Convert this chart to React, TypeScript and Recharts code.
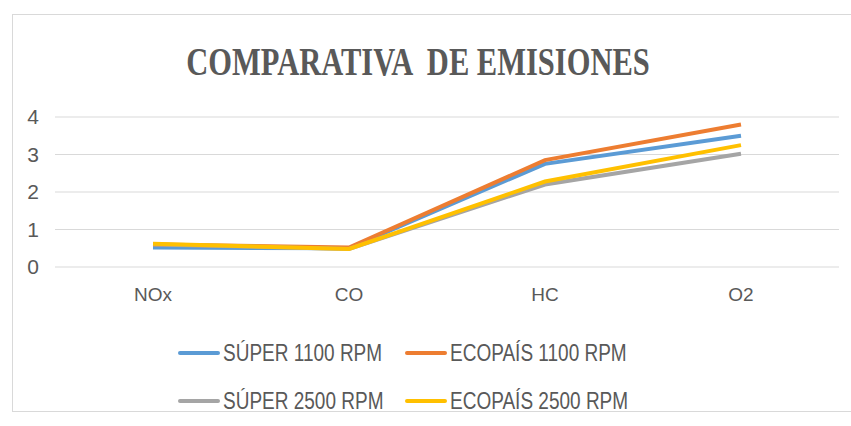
import { LineChart, Line, XAxis, YAxis, CartesianGrid } from "recharts";

const CATEGORIES = ["NOx", "CO", "HC", "O2"];
const SUPER_1100 = [0.52, 0.5, 2.75, 3.5];
const ECOPAIS_1100 = [0.6, 0.52, 2.85, 3.8];
const SUPER_2500 = [0.6, 0.48, 2.2, 3.02];
const ECOPAIS_2500 = [0.62, 0.48, 2.28, 3.25];
const Y_TICKS = [0, 1, 2, 3, 4];

const SERIES = [
  { key: "s1100", name: "SÚPER 1100 RPM", color: "#5B9BD5", values: SUPER_1100 },
  { key: "e1100", name: "ECOPAÍS 1100 RPM", color: "#ED7D31", values: ECOPAIS_1100 },
  { key: "s2500", name: "SÚPER 2500 RPM", color: "#A5A5A5", values: SUPER_2500 },
  { key: "e2500", name: "ECOPAÍS 2500 RPM", color: "#FFC000", values: ECOPAIS_2500 },
];

const data = CATEGORIES.map((cat, i) => {
  const row: Record<string, string | number> = { cat };
  for (const s of SERIES) row[s.key] = s.values[i];
  return row;
});

const FONT = "'Liberation Sans', Arial, sans-serif";

function LegendBox() {
  return (
    <div
      style={{
        position: "absolute",
        top: 342,
        left: 178,
        display: "grid",
        gridTemplateColumns: "227px 230px",
        rowGap: 26,
        fontFamily: FONT,
        fontSize: 19,
        color: "#595959",
      }}
    >
      {SERIES.map((s) => (
        <div key={s.key} style={{ display: "flex", alignItems: "center" }}>
          <span
            style={{
              display: "inline-block",
              width: 42,
              height: 4,
              borderRadius: 2,
              background: s.color,
              marginRight: 3,
            }}
          />
          <span style={{ display: "inline-block", transform: "scaleY(1.25)" }}>
            {s.name}
          </span>
        </div>
      ))}
    </div>
  );
}

export default function App() {
  return (
    <div
      style={{
        position: "absolute",
        left: 0,
        top: 0,
        width: 851,
        height: 426,
        background: "#fff",
        overflow: "hidden",
      }}
    >
      <div
        style={{
          position: "absolute",
          left: 12,
          top: 14,
          width: 845,
          height: 396,
          border: "1px solid #d9d9d9",
        }}
      />
      <div
        style={{
          position: "absolute",
          left: 0,
          width: 836,
          top: 45,
          textAlign: "center",
          fontFamily: "'Liberation Serif', 'Times New Roman', serif",
          fontWeight: "bold",
          fontSize: 30.5,
          color: "#595959",
          transform: "scaleY(1.28)",
          whiteSpace: "pre",
        }}
      >
        {"COMPARATIVA  DE EMISIONES"}
      </div>
      <div style={{ position: "absolute", left: 0, top: 0 }}>
        <LineChart
          width={851}
          height={426}
          data={data}
          margin={{ top: 117, right: 12, bottom: 0, left: 10 }}
        >
          <CartesianGrid vertical={false} stroke="#d9d9d9" />
          <XAxis
            dataKey="cat"
            axisLine={false}
            tickLine={false}
            tickSize={0}
            tickMargin={21}
            height={159}
            padding={{ left: 98, right: 98 }}
            tick={{ fill: "#595959", fontSize: 19, fontFamily: FONT }}
          />
          <YAxis
            domain={[0, 4]}
            ticks={Y_TICKS}
            interval={0}
            axisLine={false}
            tickLine={false}
            tickSize={0}
            tickMargin={16}
            width={45}
            tick={{ fill: "#595959", fontSize: 21, fontFamily: FONT }}
          />
          {SERIES.map((s) => (
            <Line
              key={s.key}
              type="linear"
              dataKey={s.key}
              name={s.name}
              stroke={s.color}
              strokeWidth={4}
              dot={false}
              isAnimationActive={false}
            />
          ))}
        </LineChart>
      </div>
      <LegendBox />
    </div>
  );
}
